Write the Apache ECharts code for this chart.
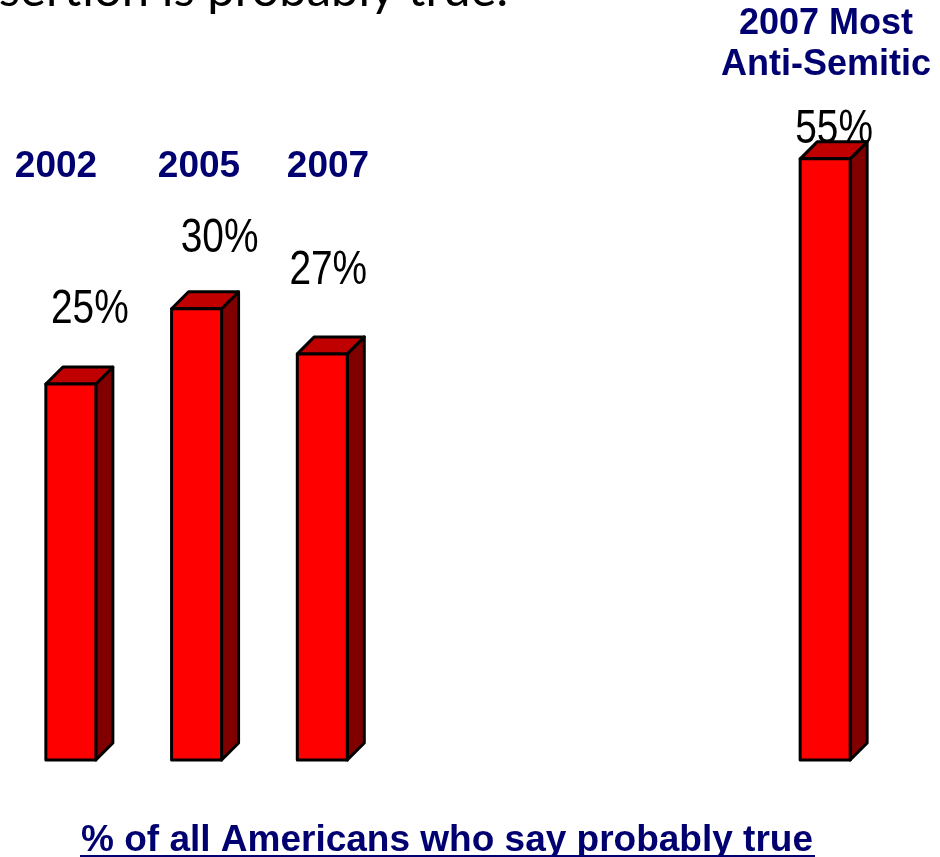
<!DOCTYPE html>
<html>
<head>
<meta charset="utf-8">
<script src="https://cdn.jsdelivr.net/npm/echarts@6/dist/echarts.min.js"></script>
<style>html,body{margin:0;padding:0;background:#fff;}#c{width:940px;height:857px;}</style>
</head>
<body>
<div id="c"></div>
<script>
// ---- data ----
const categories = ['2002', '2005', '2007', 'gap1', 'gap2', 'gap3', '2007 Most Anti-Semitic'];
const headerLabels = ['2002', '2005', '2007', '2007 Most\nAnti-Semitic'];
const yearCategories = ['2002', '2005', '2007'];
const yearValues = [25, 30, 27];
const mostCategories = ['2007 Most Anti-Semitic'];
const mostValues = [55];
const topText = 'assertion is probably true.';
const footText = '% of all Americans who say probably true';

// ---- layout / style (not data) ----
// label offsets: [dx from bar centre, baseline dy from front-top]
const labelOffsets = { '2002': [19, -58], '2005': [23, -53], '2007': [6, -67], '2007 Most Anti-Semitic': [9, -12] };
const NAVY = '#000070';
const BOLD = '"Liberation Sans", Arial, sans-serif';

function renderBar(params, api) {
  const cat = api.value(0);
  const v = api.value(1);
  const catName = categories[cat];
  const top = api.coord([cat, v]);
  const base = api.coord([cat, 0]);
  const w = 50, d = 17;
  const l = top[0] - w / 2, r = top[0] + w / 2, t = top[1], b = base[1];
  const edge = { stroke: '#000', lineWidth: 3, lineJoin: 'round' };
  const off = labelOffsets[catName] || [0, -50];
  return {
    type: 'group',
    children: [
      { type: 'polygon', shape: { points: [[r, t], [r + d, t - d], [r + d, b - d], [r, b]] }, style: Object.assign({ fill: '#800000' }, edge) },
      { type: 'polygon', shape: { points: [[l, t], [l + d, t - d], [r + d, t - d], [r, t]] }, style: Object.assign({ fill: '#C00000' }, edge) },
      { type: 'rect', shape: { x: l, y: t, width: w, height: b - t }, style: Object.assign({ fill: '#FF0000' }, edge) },
      { type: 'text', z2: 10, x: top[0] + off[0], y: t + off[1] - 16.6, scaleX: 0.81,
        style: { text: v + '%', x: 0, y: 0, align: 'center', verticalAlign: 'middle',
        font: '48px "Liberation Sans", Arial, sans-serif', fill: '#000' } }
    ]
  };
}

const chart = echarts.init(document.getElementById('c'), null, { renderer: 'canvas' });
chart.setOption({
  animation: false,
  backgroundColor: '#ffffff',
  grid: { left: 8, top: 8, width: 880, height: 752, containLabel: false },
  xAxis: { type: 'category', data: categories, show: false },
  yAxis: [
    { type: 'value', min: 0, max: 50, show: false },
    { type: 'value', min: 0, max: 68.8, show: false }
  ],
  series: [
    { type: 'custom', yAxisIndex: 0, renderItem: renderBar,
      data: yearCategories.map((c, i) => [categories.indexOf(c), yearValues[i]]) },
    { type: 'custom', yAxisIndex: 1, renderItem: renderBar,
      data: mostCategories.map((c, i) => [categories.indexOf(c), mostValues[i]]) }
  ],
  graphic: [
    { type: 'text', x: 508, y: -10, style: { text: topText, align: 'right', verticalAlign: 'middle',
      font: '49px Lato, "Open Sans", sans-serif', fill: '#000' } },
    { type: 'text', x: 56, y: 167, style: { text: headerLabels[0], align: 'center', verticalAlign: 'middle', font: 'bold 37px ' + BOLD, fill: NAVY } },
    { type: 'text', x: 199, y: 167, style: { text: headerLabels[1], align: 'center', verticalAlign: 'middle', font: 'bold 37px ' + BOLD, fill: NAVY } },
    { type: 'text', x: 328, y: 167, style: { text: headerLabels[2], align: 'center', verticalAlign: 'middle', font: 'bold 37px ' + BOLD, fill: NAVY } },
    { type: 'text', x: 826, y: 4, style: { text: headerLabels[3], align: 'center', verticalAlign: 'top', lineHeight: 41, font: 'bold 36px ' + BOLD, fill: NAVY } },
    { type: 'text', x: 447, y: 841, style: { text: footText, align: 'center', verticalAlign: 'middle', font: 'bold 37px ' + BOLD, fill: NAVY } },
    { type: 'line', shape: { x1: 80, y1: 856, x2: 815, y2: 856 }, style: { stroke: NAVY, lineWidth: 2 } }
  ]
});
</script>
</body>
</html>
